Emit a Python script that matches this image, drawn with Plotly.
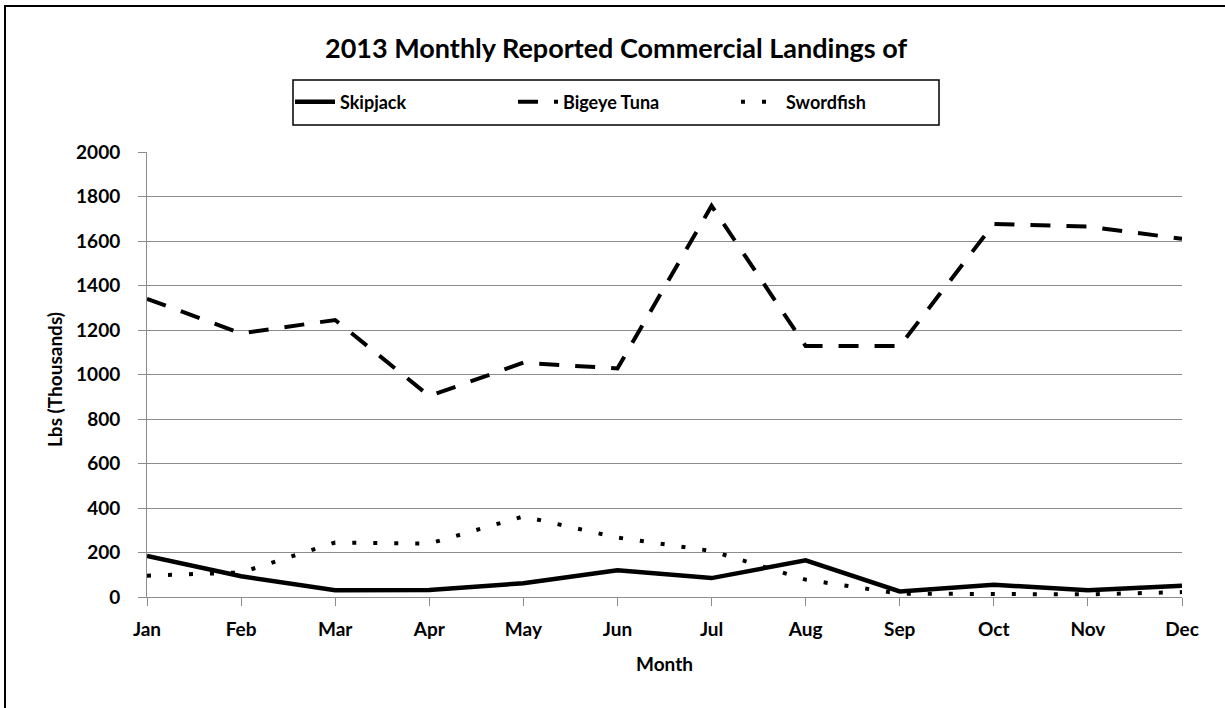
import plotly.graph_objects as go

months = ["Jan", "Feb", "Mar", "Apr", "May", "Jun", "Jul", "Aug", "Sep", "Oct", "Nov", "Dec"]
skipjack = [185, 93, 30, 32, 62, 120, 85, 165, 25, 55, 30, 51]
bigeye = [1340, 1185, 1245, 903, 1053, 1027, 1758, 1128, 1128, 1677, 1665, 1610]
swordfish = [96, 110, 245, 240, 362, 267, 207, 78, 15, 15, 12, 22]
y_ticks = [0, 200, 400, 600, 800, 1000, 1200, 1400, 1600, 1800, 2000]

FONT = "Lato"

fig = go.Figure()
fig.add_trace(go.Scatter(x=months, y=skipjack, mode="lines", name="Skipjack",
                         line=dict(color="black", width=4.5)))
fig.add_trace(go.Scatter(x=months, y=bigeye, mode="lines", name="Bigeye Tuna",
                         line=dict(color="black", width=4, dash="20px,16px")))
fig.add_trace(go.Scatter(x=months, y=swordfish, mode="lines", name="Swordfish",
                         line=dict(color="black", width=4, dash="4px,17px")))

L, R, T, B = 147, 1182, 152, 597
W, H = 1225, 708
pw, ph = R - L, B - T

def px(x):
    return (x - L) / pw

def py(y):
    return (B - y) / ph

fig.update_layout(
    width=W, height=H,
    margin=dict(l=L, r=W - R, t=T, b=H - B, pad=0),
    paper_bgcolor="white", plot_bgcolor="white",
    font=dict(family=FONT, size=19, color="black"),
    showlegend=True,
    legend=dict(orientation="h", x=px(290), xanchor="left", y=py(102), yanchor="middle",
                borderwidth=0, bgcolor="rgba(0,0,0,0)",
                font=dict(family=FONT, size=18, color="black", weight="bold"),
                entrywidth=168, itemwidth=40, tracegroupgap=0),
    xaxis=dict(range=[0, 11], showgrid=False, showline=True, linecolor="#8c8c8c", linewidth=1,
               ticks="outside", ticklen=8, tickcolor="#8c8c8c",
               tickfont=dict(family=FONT, size=19, weight="bold"), ticklabelstandoff=7,
               zeroline=False, fixedrange=True),
    yaxis=dict(range=[0, 2000], tickvals=y_ticks, showgrid=True, gridcolor="#8c8c8c", gridwidth=1,
               showline=True, linecolor="#8c8c8c", linewidth=1, ticks="outside", ticklen=8,
               tickcolor="#8c8c8c", tickfont=dict(family=FONT, size=19, weight="bold"),
               ticklabelstandoff=14, zeroline=False, fixedrange=True),
    annotations=[
        dict(text="<b>2013 Monthly Reported Commercial Landings of</b>", xref="paper", yref="paper",
             x=px(616), y=py(48), xanchor="center", yanchor="middle", showarrow=False,
             font=dict(family=FONT, size=27, color="black")),
        dict(text="<b>Month</b>", xref="paper", yref="paper", x=px(664), y=py(663),
             xanchor="center", yanchor="middle", showarrow=False,
             font=dict(family=FONT, size=19, color="black")),
        dict(text="<b>Lbs (Thousands)</b>", xref="paper", yref="paper", x=px(54), y=py(380),
             xanchor="center", yanchor="middle", showarrow=False, textangle=-90,
             font=dict(family=FONT, size=19, color="black")),
    ],
    shapes=[
        dict(type="rect", xref="paper", yref="paper", x0=px(5), x1=px(1240), y0=py(6), y1=py(720),
             line=dict(color="black", width=2), fillcolor="rgba(0,0,0,0)", layer="below"),
        dict(type="rect", xref="paper", yref="paper", x0=px(293), x1=px(939), y0=py(80), y1=py(125),
             line=dict(color="black", width=1.5), fillcolor="rgba(0,0,0,0)", layer="below"),
    ],
)

fig.write_html("out.html", config={"displayModeBar": False},
               post_script="document.body.style.margin='0';document.body.style.padding='0';")
